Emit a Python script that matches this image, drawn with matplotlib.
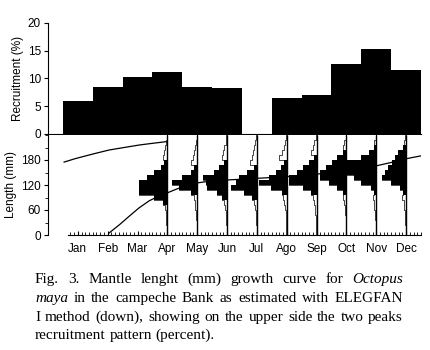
import numpy as np
import matplotlib
matplotlib.use("Agg")
import matplotlib.pyplot as plt
from matplotlib.ticker import MultipleLocator, FixedLocator

# recruitment (%) per month, upper panel
months = ['Jan', 'Feb', 'Mar', 'Apr', 'May', 'Jun',
          'Jul', 'Ago', 'Sep', 'Oct', 'Nov', 'Dec']
recruit = [6.0, 8.5, 10.3, 11.2, 8.5, 8.2, 0.0, 6.5, 7.0, 12.6, 15.3, 11.6]

# length classes (mm), lower edges of 12 mm bins
len_edges = list(range(0, 241, 12))

# restructured length frequencies, in fractions of a month
# (positive = black peak, negative = white trough)
freq_apr = [-0.01, -0.02, -0.03, -0.04, -0.06, -0.08, 0.15, 0.45, 0.94, 0.94,
            0.94, 0.67, 0.45, 0.20, 0.10, -0.15, -0.11, -0.08, -0.05, -0.02]
freq_may = [-0.01, -0.01, -0.02, -0.03, -0.04, -0.06, -0.08, -0.12, 0.20, 0.60,
            0.84, 0.50, 0.20, 0.10, -0.20, -0.15, -0.11, -0.07, -0.04, -0.02]
freq_jun = [-0.01, -0.01, -0.02, -0.03, -0.04, -0.06, -0.09, 0.17, 0.34, 0.67,
            0.70, 0.80, 0.44, 0.27, 0.10, -0.18, -0.13, -0.09, -0.05, -0.02]
freq_jul = [-0.01, -0.01, -0.02, -0.03, -0.04, -0.06, -0.09, 0.15, 0.44, 0.87,
            0.70, 0.60, 0.34, 0.10, -0.22, -0.17, -0.12, -0.08, -0.05, -0.02]
freq_ago = [-0.01, -0.01, -0.02, -0.03, -0.04, -0.06, -0.08, -0.12, 0.17, 0.54,
            0.94, 0.60, 0.37, 0.20, 0.10, -0.25, -0.17, -0.10, -0.06, -0.03]
freq_sep = [-0.01, -0.01, -0.02, -0.03, -0.04, -0.06, -0.08, -0.12, 0.17, 0.44,
            0.94, 0.94, 0.67, 0.44, 0.27, 0.10, -0.18, -0.12, -0.07, -0.03]
freq_oct = [-0.01, -0.01, -0.02, -0.03, -0.04, -0.06, -0.08, -0.12, 0.13, 0.30,
            0.57, 0.90, 0.90, 0.67, 0.47, 0.30, 0.13, -0.12, -0.07, -0.03]
freq_nov = [-0.01, -0.01, -0.02, -0.03, -0.04, -0.06, -0.08, -0.12, 0.07, 0.17,
            0.50, 0.74, 0.97, 0.97, 0.97, 0.50, 0.24, 0.07, -0.06, -0.02]
freq_dec = [-0.01, -0.01, -0.02, -0.03, -0.04, -0.06, -0.08, -0.12, 0.10, 0.20,
            0.50, 0.80, 0.70, 0.60, 0.47, 0.37, 0.27, 0.10, -0.06, -0.02]
sample_month = [4, 5, 6, 7, 8, 9, 10, 11, 12]
samples = [freq_apr, freq_may, freq_jun, freq_jul, freq_ago,
           freq_sep, freq_oct, freq_nov, freq_dec]

# growth curves (month, length mm)
curve1_t = [0.54, 0.9, 1.27, 1.65, 2.05, 2.55, 3.06, 3.5, 3.96]
curve1_L = [175, 183, 190, 197, 204, 210, 216, 220, 224]
curve2_t = [2.05, 2.4, 2.72, 3.05, 3.39, 3.7, 3.96, 4.3, 4.6, 5.0, 5.5, 6.0,
            6.5, 7.0, 7.5, 8.0, 8.5, 9.0, 9.5, 10.0, 10.5, 11.0, 11.5, 12.0, 12.5]
curve2_L = [5, 25, 45, 65, 82, 93, 100, 110, 118, 125, 130, 132,
            134, 136, 138, 140, 143, 146, 150, 154, 160, 166, 174, 183, 190]

sans = 'Liberation Sans'
fig = plt.figure(figsize=(4.31, 3.5), dpi=100)
W, H = 431, 350

# ---- upper panel: recruitment
ax1 = fig.add_axes([48 / W, 1 - 134 / H, 373 / W, 111 / H])
ax1.bar(range(1, 13), recruit, width=1.0, color='black', linewidth=0)
ax1.set_xlim(0, 12.5)
ax1.set_ylim(0, 20)
ax1.set_yticks([0, 5, 10, 15, 20])
ax1.spines['top'].set_visible(False)
ax1.spines['right'].set_visible(False)
ax1.tick_params(axis='x', length=0, labelbottom=False)
ax1.tick_params(axis='y', direction='out', length=3, width=0.8, labelsize=8.5, pad=2)
for lab in ax1.get_yticklabels():
    lab.set_family(sans)
ax1.set_ylabel('Recruitment (%)', family=sans, fontsize=8.5, labelpad=3)

# ---- lower panel: length frequencies and growth curves
ax2 = fig.add_axes([48 / W, 1 - 235 / H, 373 / W, 100 / H])
edges = np.array(len_edges)
for m, f in zip(sample_month, samples):
    f = np.array(f)
    w = np.append(np.abs(f), abs(f[-1]))
    pos = np.clip(f, 0, None)
    pos = np.append(pos, pos[-1])
    ax2.fill_betweenx(edges, m - w, m, step='post', facecolor='white',
                      edgecolor='black', linewidth=0.5, zorder=2)
    ax2.fill_betweenx(edges, m - pos, m, step='post', facecolor='black',
                      linewidth=0, zorder=3)
ax2.vlines(sample_month, 0, 240, color='black', linewidth=1.0, zorder=4)
ax2.plot(curve1_t, curve1_L, color='black', linewidth=0.9, zorder=5)
ax2.plot(curve2_t, curve2_L, color='black', linewidth=0.9, zorder=5)

ax2.set_xlim(0, 12.5)
ax2.set_ylim(0, 240)
ax2.set_yticks([0, 60, 120, 180])
ax2.yaxis.set_minor_locator(MultipleLocator(30))
ax2.set_xticks(range(1, 13))
ax2.set_xticklabels(months, family=sans, fontsize=8.5)
ax2.xaxis.set_minor_locator(FixedLocator(np.arange(0.75, 12.51, 0.125)))
ax2.spines['top'].set_visible(False)
ax2.spines['right'].set_visible(False)
ax2.spines['bottom'].set_bounds(0.66, 12.5)
ax2.tick_params(axis='x', which='major', direction='in', length=3, width=0.8, pad=6)
ax2.tick_params(axis='x', which='minor', direction='in', length=2, width=0.6)
ax2.tick_params(axis='y', which='major', direction='out', length=3, width=0.8,
                labelsize=8.5, pad=2)
ax2.tick_params(axis='y', which='minor', direction='out', length=2, width=0.6)
for lab in ax2.get_yticklabels():
    lab.set_family(sans)
ax2.set_ylabel('Length (mm)', family=sans, fontsize=8.5, labelpad=3)

# ---- caption, justified by hand
caption = [
    ([('Fig.', 0), ('3.', 0), ('Mantle', 0), ('lenght', 0), ('(mm)', 0), ('growth', 0),
      ('curve', 0), ('for', 0), ('Octopus', 1)], 283, True),
    ([('maya', 1), ('in', 0), ('the', 0), ('campeche', 0), ('Bank', 0), ('as', 0),
      ('estimated', 0), ('with', 0), ('ELEGFAN', 0)], 302, True),
    ([('I', 0), ('method', 0), ('(down),', 0), ('showing', 0), ('on', 0), ('the', 0),
      ('upper', 0), ('side', 0), ('the', 0), ('two', 0), ('peaks', 0)], 321, True),
    ([('recruitment', 0), ('pattern', 0), ('(percent).', 0)], 339, False),
]
x_left, x_right = 35, 403
renderer = fig.canvas.get_renderer()
for words, ybase, justify in caption:
    texts = []
    for word, ital in words:
        t = fig.text(0, 1 - ybase / H, word, fontsize=11, family='Liberation Serif',
                     style='italic' if ital else 'normal', va='baseline', ha='left')
        texts.append(t)
    widths = [t.get_window_extent(renderer).width for t in texts]
    if justify:
        gap = (x_right - x_left - sum(widths)) / (len(texts) - 1)
    else:
        gap = 3.8
    x = x_left
    for t, wd in zip(texts, widths):
        t.set_x(x / W)
        x += wd + gap

fig.savefig('out.png', dpi=100, facecolor='white')
